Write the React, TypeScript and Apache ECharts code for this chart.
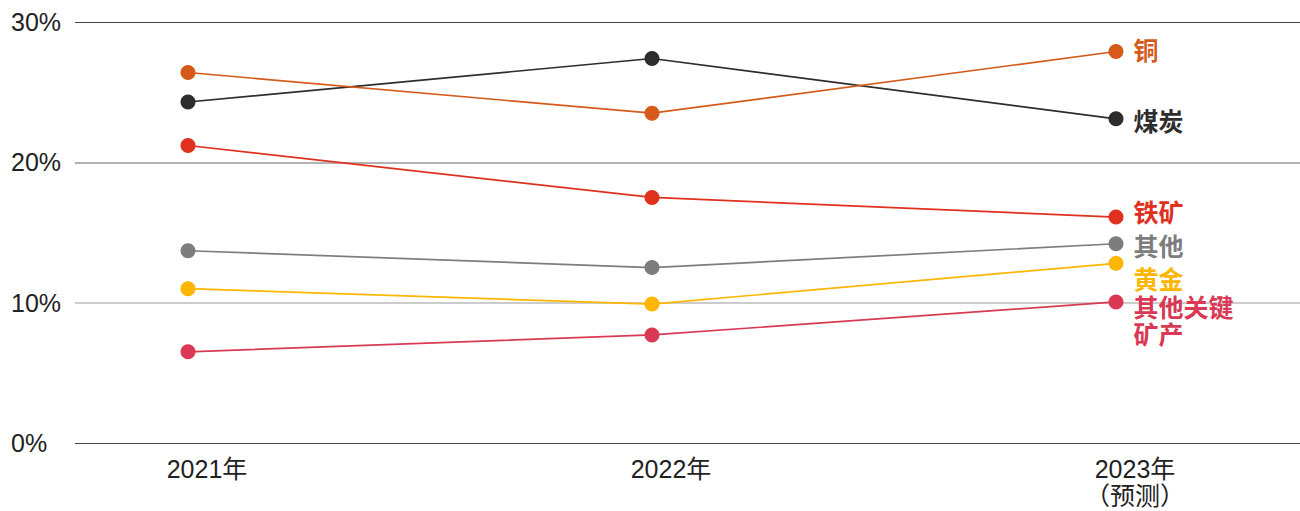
import React, { useEffect, useRef } from "react";
import * as echarts from "echarts";

const years = ["2021年", "2022年", "2023年\n（预测）"];
const seriesNames = ["铜", "煤炭", "铁矿", "其他", "黄金", "其他关键\n矿产"];
const copper = [26.4, 23.5, 27.9];
const coal = [24.3, 27.4, 23.1];
const ironOre = [21.2, 17.5, 16.1];
const other = [13.7, 12.5, 14.2];
const gold = [11.0, 9.9, 12.8];
const otherCritical = [6.5, 7.7, 10.05];
const yTicks = [0, 10, 20, 30];

const colors = ["#D65A1A", "#2D2D2D", "#E0301E", "#7D7D7D", "#FFB600", "#D93954"];
const labelOffsets = [0, 3, -4, 3, 17, 20];

const FONT = "'Liberation Sans', 'Noto Sans CJK SC', sans-serif";

export default function App() {
  const ref = useRef<HTMLDivElement>(null);
  useEffect(() => {
    document.body.style.margin = "0";
    if (!ref.current) return;
    const chart = echarts.init(ref.current, undefined, { renderer: "svg" });
    const all = [copper, coal, ironOre, other, gold, otherCritical];
    const series = all.map((vals, i) => ({
      name: seriesNames[i],
      type: "line",
      data: vals.map((v, j) => {
        const item: any = { value: [j, v] };
        if (j === vals.length - 1) {
          item.label = {
            show: true,
            position: "right",
            distance: 10,
            offset: [0, labelOffsets[i]],
            formatter: seriesNames[i],
            color: colors[i],
            fontSize: 25,
            fontWeight: "bold",
            fontFamily: FONT,
            lineHeight: 27,
            align: "left",
          };
        }
        return item;
      }),
      symbol: "circle",
      symbolSize: 15,
      lineStyle: { color: colors[i], width: 1.7 },
      itemStyle: { color: colors[i] },
      z: 10 - i,
    }));
    chart.setOption({
      animation: false,
      grid: { left: 75, right: 0, top: 22, bottom: 68, containLabel: false },
      xAxis: {
        type: "value",
        min: -113 / 464,
        max: 1112 / 464,
        axisLine: { show: false },
        axisTick: { show: false },
        splitLine: { show: false },
        axisLabel: {
          customValues: [0, 1, 2],
          formatter: (v: number) => years[Math.round(v)] ?? "",
          fontSize: 25,
          color: "#222",
          fontFamily: FONT,
          margin: 12,
          lineHeight: 27,
          padding: [0, 0, 0, 38],
        },
      },
      yAxis: {
        type: "value",
        min: yTicks[0],
        max: yTicks[yTicks.length - 1],
        interval: 10,
        axisLine: { show: false },
        axisTick: { show: false },
        axisLabel: {
          formatter: "{value}%",
          fontSize: 25,
          color: "#222",
          fontFamily: FONT,
          margin: 64,
          align: "left",
        },
        splitLine: {
          lineStyle: { color: ["#444", "#999", "#666", "#444"], width: [2, 1, 1, 2] as any },
        },
      },
      series,
    });
    return () => chart.dispose();
  }, []);
  return <div ref={ref} style={{ width: 1300, height: 511 }} />;
}
